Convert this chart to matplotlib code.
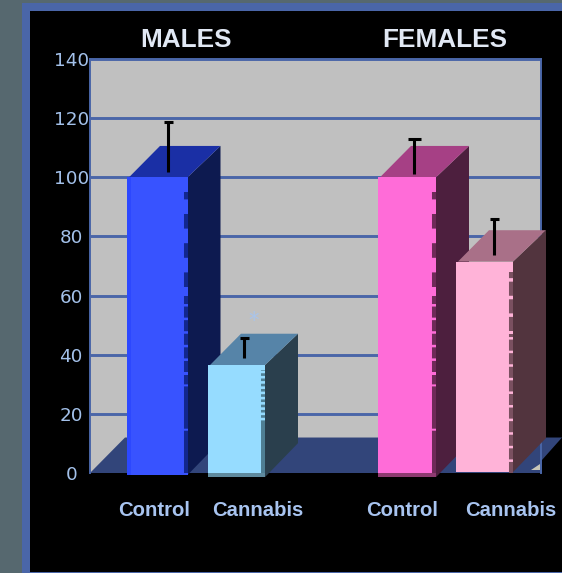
import matplotlib
matplotlib.use("Agg")
import matplotlib.pyplot as plt
from matplotlib.patches import Polygon, Rectangle

plt.rcParams['font.family'] = ['DejaVu Sans']

# values
groups = ['MALES', 'FEMALES']
labels = ['Control', 'Cannabis', 'Control', 'Cannabis']
values = [100, 36.5, 100, 71.5]
err_low = [101.8, 38.9, 101, 73.7]
err_high = [118.7, 45.6, 113, 86]
yticks = [0, 20, 40, 60, 80, 100, 120, 140]

# layout, x axis runs in pixels across the plot area
W, H = 562, 573
left, right, top, bottom = 90, 541, 59, 473
bar_left = [127, 208, 378, 456]
bar_width = [60.5, 57, 58, 57]
bar_low = [-0.7, 0, 0, 0.3]
strip_low = [-0.7, -1.4, -1.4, 0.3]
err_x = [168, 244, 414, 494]
cap_w = [9, 9, 13, 9]
label_x = [154, 258, 402, 511]
title_x = [186, 445]
depth_x = 33
depth_y = 10.6

# colours
front = ['#3853ff', '#96dcff', '#ff6cd8', '#ffb3d8']
bright = ['#2c48ff', '#96dcff', '#ff6cd8', '#ffb3d8']
side = ['#0d1a50', '#2a3f4d', '#4d1f3e', '#52343e']
roof = ['#1a2fa5', '#5684a8', '#a64085', '#a97088']
band = ['#12278f', '#4f7f94', '#6e2a58', '#7a5060']
base = ['#12278f', '#5e8a9e', '#8e3a70', '#7a5060']
edge = '#4a66a8'
floor = '#32457a'

# jagged band between front and side: (top value, bottom value, px on, px off)
jags = [
    [(95, 63, 14.5, 14.5), (60, 34, 11, 2.5), (33, 0, 42, 2)],
    [(35, 17, 2.6, 2.6)],
    [(95, 63, 14.5, 14.5), (60, 34, 11, 2.5), (33, 0, 42, 2)],
    [(68, 48, 14, 3.5), (47, 0, 11, 2.5)],
]

fig = plt.figure(figsize=(W / 100, H / 100), dpi=100, facecolor='#56686f')

# frame behind the chart
bg = fig.add_axes([0, 0, 1, 1])
bg.set_xlim(0, W)
bg.set_ylim(H, 0)
bg.axis('off')
bg.add_patch(Rectangle((22, 3), W - 22, H - 3, fc=edge, ec='none'))
bg.add_patch(Rectangle((30, 11), W - 30, H - 12, fc='black', ec='none'))

ax = fig.add_axes([left / W, 1 - bottom / H, (right - left) / W, (bottom - top) / H])
ax.set_xlim(left, right)
ax.set_ylim(0, 140)
ax.set_facecolor('#c0c0c0')
for s in ax.spines.values():
    s.set_color(edge)
    s.set_linewidth(1.4)
ax.spines['bottom'].set_visible(False)

ax.set_yticks(yticks)
ax.set_yticklabels(yticks, fontsize=13.2, color='#a3c1ea', ha='center', va='center_baseline')
ax.tick_params(axis='y', length=0, pad=13.5)
ax.set_xticks(label_x)
ax.set_xticklabels(labels, fontsize=14.6, color='#a8c4f0', fontweight='bold', family='Liberation Sans')
ax.tick_params(axis='x', length=0, pad=20)
ax.grid(axis='y', color=edge, linewidth=2.1)
ax.set_axisbelow(True)

# floor, runs back at the same depth as the bars
fx = 35
fy = 12
ax.add_patch(Polygon([(left, 0), (left + fx, fy), (right + 21, fy), (right + 1, 4.4), (right + 1, 0)],
                     fc=floor, ec='none', clip_on=False, zorder=2))
ax.add_patch(Polygon([(right - 10, 1), (right - 1, 1), (right - 1, 3)],
                     fc='#c9c7b8', ec='none', zorder=2.1))

# later bars sit over earlier ones
for i in range(4):
    x0 = bar_left[i]
    x1 = x0 + bar_width[i]
    v = values[i]
    z = 3 + i
    low = strip_low[i]
    ax.add_patch(Polygon([(x1, low), (x1 + depth_x, low + 11.5), (x1 + depth_x, v + depth_y), (x1, v)],
                         fc=side[i], ec='none', clip_on=False, zorder=z))
    ax.add_patch(Polygon([(x0 + 2, v), (x0 + depth_x, v + depth_y), (x1 + depth_x, v + depth_y), (x1, v)],
                         fc=roof[i], ec='none', clip_on=False, zorder=z))
    # bottom strip of the box
    ax.bar(x0, bar_low[i] - low, bottom=low, width=bar_width[i], align='edge', color=base[i],
           clip_on=False, zorder=z + 0.05)
    ax.bar(x0, v - bar_low[i], bottom=bar_low[i], width=bar_width[i], align='edge', color=front[i],
           clip_on=False, zorder=z + 0.1)
    ax.bar(x0, v - bar_low[i], bottom=bar_low[i], width=4, align='edge', color=bright[i],
           clip_on=False, zorder=z + 0.2)
    # jagged edge where the front meets the side
    if i == 1:
        # lower part of this band is plain
        ax.bar(x1 - 4, 17 - bar_low[i], bottom=bar_low[i], width=4, align='edge', color=band[i], zorder=z + 0.3)
    for hi, lo, on, off in jags[i]:
        ax.vlines(x1 - 2, lo, hi, color=band[i], linewidth=2.9, linestyles=(0, (on / 4, off / 4)),
                  zorder=z + 0.3)

# error bars
for i in range(4):
    ax.vlines(err_x[i], err_low[i], err_high[i], color='black', linewidth=2.2, zorder=10)
    ax.hlines(err_high[i], err_x[i] - cap_w[i] / 2, err_x[i] + cap_w[i] / 2, color='black', linewidth=2.2, zorder=10)

ax.text(254, 51.5, '*', color='#a8c4ec', fontsize=15, ha='center', va='center', zorder=10)

for name, x in zip(groups, title_x):
    ax.text(x, 146.4, name, color='#e1e8f4', fontsize=18.8, fontweight='bold', family='Liberation Sans',
            ha='center', va='center', clip_on=False)

fig.savefig('out.png', dpi=100, facecolor=fig.get_facecolor())
